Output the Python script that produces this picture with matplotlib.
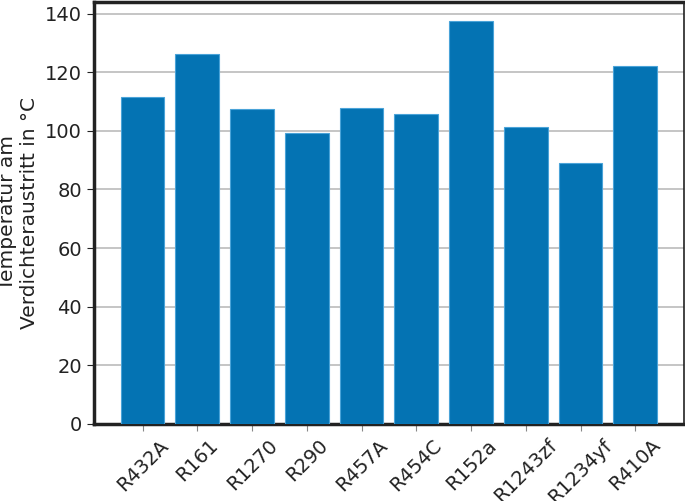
import matplotlib
matplotlib.use("Agg")
import matplotlib.pyplot as plt

categories = ["R432A", "R161", "R1270", "R290", "R457A", "R454C", "R152a", "R1243zf", "R1234yf", "R410A"]
values = [111.7, 126.3, 107.4, 99.4, 107.9, 105.8, 137.5, 101.5, 89.0, 122.2]
yticks = [0, 20, 40, 60, 80, 100, 120, 140]

fig = plt.figure(figsize=(6.85, 5.01), dpi=100)
ax = fig.add_axes([0.137, 0.154, 0.8615, 0.842])
ax.bar(range(len(categories)), values, width=0.8, color="#0473b3",
       edgecolor="#4aa3d8", linewidth=0.8, zorder=3)
ax.set_ylim(0, 144)
ax.set_yticks(yticks)
ax.set_xticks(range(len(categories)))
ax.set_xticklabels(categories, rotation=45, ha="center", fontsize=14, color="#222222")
ax.tick_params(axis="y", labelsize=14, length=5, color="#222222", labelcolor="#222222")
ax.tick_params(axis="x", length=5, color="#888888")
ax.grid(axis="y", color="#bbbbbb", linewidth=1.2, zorder=0)
ax.set_ylabel("Temperatur am\nVerdichteraustritt in °C", fontsize=14.5, color="#222222", labelpad=4)
for s in ["left", "bottom", "top"]:
    ax.spines[s].set_linewidth(2.5)
    ax.spines[s].set_color("#222222")
ax.spines["right"].set_linewidth(1.2)
ax.spines["right"].set_color("#222222")
fig.savefig("out.png", dpi=100)
